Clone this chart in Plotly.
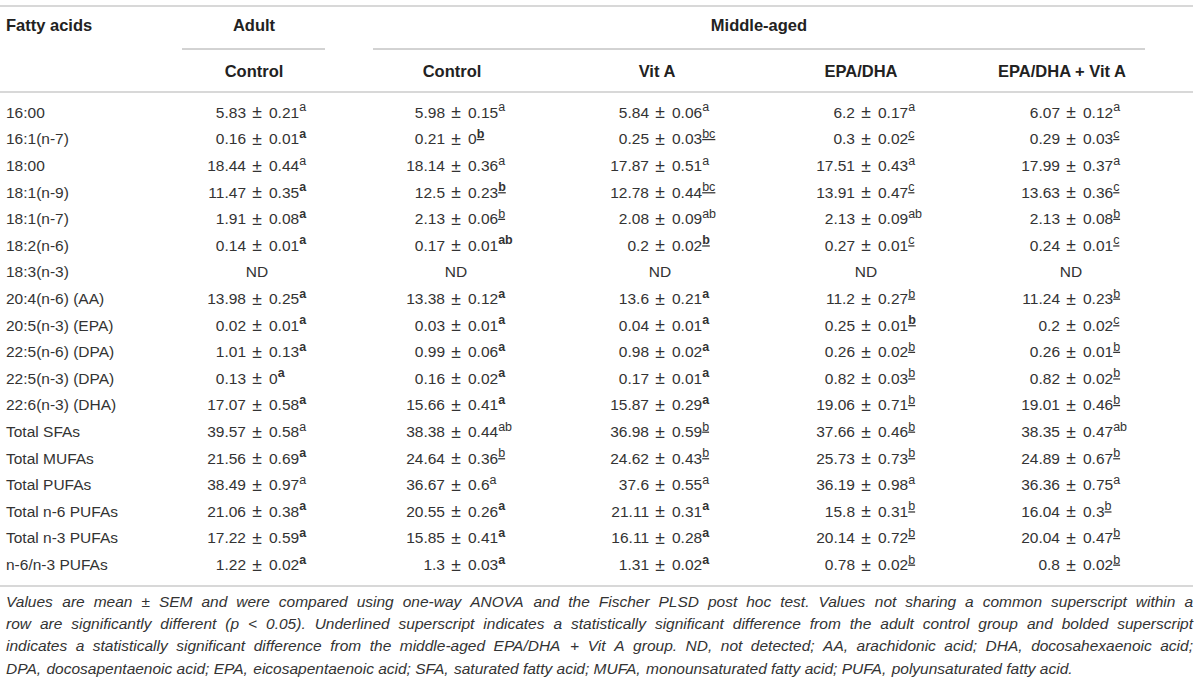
import plotly.graph_objects as go

# ---- table data ----
fatty_acids = ["16:00", "16:1(n-7)", "18:00", "18:1(n-9)", "18:1(n-7)", "18:2(n-6)", "18:3(n-3)",
               "20:4(n-6) (AA)", "20:5(n-3) (EPA)", "22:5(n-6) (DPA)", "22:5(n-3) (DPA)", "22:6(n-3) (DHA)",
               "Total SFAs", "Total MUFAs", "Total PUFAs", "Total n-6 PUFAs", "Total n-3 PUFAs", "n-6/n-3 PUFAs"]

age_groups = ["Adult", "Middle-aged"]
treatments = ["Control", "Control", "Vit A", "EPA/DHA", "EPA/DHA + Vit A"]

# superscript codes: "*" = bold, "_" = underlined, None = not detected
adult_ctrl_mean = [5.83, 0.16, 18.44, 11.47, 1.91, 0.14, None, 13.98, 0.02, 1.01, 0.13, 17.07, 39.57, 21.56, 38.49, 21.06, 17.22, 1.22]
adult_ctrl_sem = [0.21, 0.01, 0.44, 0.35, 0.08, 0.01, None, 0.25, 0.01, 0.13, 0, 0.58, 0.58, 0.69, 0.97, 0.38, 0.59, 0.02]
adult_ctrl_sup = ["a", "*a", "a", "*a", "*a", "*a", None, "*a", "*a", "*a", "*a", "*a", "a", "*a", "a", "*a", "*a", "*a"]

ma_ctrl_mean = [5.98, 0.21, 18.14, 12.5, 2.13, 0.17, None, 13.38, 0.03, 0.99, 0.16, 15.66, 38.38, 24.64, 36.67, 20.55, 15.85, 1.3]
ma_ctrl_sem = [0.15, 0, 0.36, 0.23, 0.06, 0.01, None, 0.12, 0.01, 0.06, 0.02, 0.41, 0.44, 0.36, 0.6, 0.26, 0.41, 0.03]
ma_ctrl_sup = ["a", "*_b", "a", "*_b", "_b", "*ab", None, "*a", "*a", "*a", "*a", "*a", "ab", "_b", "a", "*a", "*a", "*a"]

vita_mean = [5.84, 0.25, 17.87, 12.78, 2.08, 0.2, None, 13.6, 0.04, 0.98, 0.17, 15.87, 36.98, 24.62, 37.6, 21.11, 16.11, 1.31]
vita_sem = [0.06, 0.03, 0.51, 0.44, 0.09, 0.02, None, 0.21, 0.01, 0.02, 0.01, 0.29, 0.59, 0.43, 0.55, 0.31, 0.28, 0.02]
vita_sup = ["a", "_bc", "a", "_bc", "ab", "*_b", None, "*a", "*a", "*a", "*a", "*a", "_b", "_b", "a", "*a", "*a", "*a"]

epa_mean = [6.2, 0.3, 17.51, 13.91, 2.13, 0.27, None, 11.2, 0.25, 0.26, 0.82, 19.06, 37.66, 25.73, 36.19, 15.8, 20.14, 0.78]
epa_sem = [0.17, 0.02, 0.43, 0.47, 0.09, 0.01, None, 0.27, 0.01, 0.02, 0.03, 0.71, 0.46, 0.73, 0.98, 0.31, 0.72, 0.02]
epa_sup = ["a", "_c", "a", "_c", "ab", "_c", None, "_b", "*_b", "_b", "_b", "_b", "_b", "_b", "a", "_b", "_b", "_b"]

epa_vita_mean = [6.07, 0.29, 17.99, 13.63, 2.13, 0.24, None, 11.24, 0.2, 0.26, 0.82, 19.01, 38.35, 24.89, 36.36, 16.04, 20.04, 0.8]
epa_vita_sem = [0.12, 0.03, 0.37, 0.36, 0.08, 0.01, None, 0.23, 0.02, 0.01, 0.02, 0.46, 0.47, 0.67, 0.75, 0.3, 0.47, 0.02]
epa_vita_sup = ["a", "_c", "a", "_c", "_b", "_c", None, "_b", "_c", "_b", "_b", "_b", "ab", "_b", "a", "_b", "_b", "_b"]

footnote_lines = [
    "Values are mean ± SEM and were compared using one-way ANOVA and the Fischer PLSD post hoc test. Values not sharing a common superscript within a",
    "row are significantly different (p < 0.05). Underlined superscript indicates a statistically significant difference from the adult control group and bolded superscript",
    "indicates a statistically significant difference from the middle-aged EPA/DHA + Vit A group. ND, not detected; AA, arachidonic acid; DHA, docosahexaenoic acid;",
    "DPA, docosapentaenoic acid; EPA, eicosapentaenoic acid; SFA, saturated fatty acid; MUFA, monounsaturated fatty acid; PUFA, polyunsaturated fatty acid.",
]

columns = [
    (adult_ctrl_mean, adult_ctrl_sem, adult_ctrl_sup),
    (ma_ctrl_mean, ma_ctrl_sem, ma_ctrl_sup),
    (vita_mean, vita_sem, vita_sup),
    (epa_mean, epa_sem, epa_sup),
    (epa_vita_mean, epa_vita_sem, epa_vita_sup),
]

# ---- layout constants (pixels) ----
W, H = 1200, 680
FONT = "Liberation Sans, Arial, sans-serif"
TXT = "#333333"
FS = 15.5
HEAD_FS = 16.5
FN_FS = 15.5
pm_x = [257, 456, 660, 866, 1071]      # where the ± signs sit
head_x = [254, 452, 657, 861, 1062]    # header centres
label_x = 6
right_edge = 1193
row0, row_h = 114, 26.6
head1_y, head2_y = 27, 73
fn_y0, fn_h = 603, 22.3
gap_l, gap_r = 11, 12

row_y = [row0 + i * row_h for i in range(len(fatty_acids))]


def sup(code):
    s = code.strip("*_")
    if "_" in code:
        s = f"<u>{s}</u>"
    if "*" in code:
        s = f"<b>{s}</b>"
    return f"<sup><span style='font-size:115%'>{s}</span></sup>"


def text_trace(x, y, text, pos, size=FS, color=TXT, style="normal"):
    return go.Scatter(x=x, y=y, text=text, mode="text", textposition=pos,
                      textfont=dict(family=FONT, size=size, color=color, style=style),
                      hoverinfo="skip", showlegend=False, cliponaxis=False)


fig = go.Figure()

# row labels
fig.add_trace(text_trace([label_x] * len(fatty_acids), row_y, fatty_acids, "middle right"))

# value cells: mean | ± | sem+superscript, aligned on the ± sign
for cx, (means, sems, sups) in zip(pm_x, columns):
    ys = [y for y, m in zip(row_y, means) if m is not None]
    fig.add_trace(text_trace([cx - gap_l] * len(ys), ys,
                             [f"{m:g}" for m in means if m is not None], "middle left"))
    fig.add_trace(text_trace([cx] * len(ys), ys, ["±"] * len(ys), "middle center", size=17.5))
    fig.add_trace(text_trace([cx + gap_r] * len(ys), ys,
                             [f"{s:g}{sup(c)}" for s, c in zip(sems, sups) if s is not None],
                             "middle right"))
    nd_y = [y for y, m in zip(row_y, means) if m is None]
    fig.add_trace(text_trace([cx] * len(nd_y), nd_y, ["ND"] * len(nd_y), "middle center"))

# headers
fig.add_trace(text_trace([label_x], [head1_y], ["<b>Fatty acids</b>"], "middle right",
                         size=HEAD_FS, color="#222"))
fig.add_trace(text_trace([head_x[0], (head_x[1] + head_x[-1]) / 2 + 2], [head1_y] * 2,
                         [f"<b>{g}</b>" for g in age_groups], "middle center",
                         size=HEAD_FS, color="#222"))
fig.add_trace(text_trace(head_x, [head2_y] * len(head_x),
                         [f"<b>{t}</b>" for t in treatments], "middle center",
                         size=HEAD_FS, color="#222"))

# footnote, justified using Arial metrics
char_w = {}
for chars, w in [(" ,.:;/!ftI", 278), ("()-r", 333), ("ilj", 222), ("cksvxyzJ", 500),
                 ("0123456789abdeghnopquL", 556), ("+<=>", 584), ("±", 549), ("FTZ", 611),
                 ("ABEKPSVXY", 667), ("CDHNRUw", 722), ("GOQ", 778), ("mM", 833), ("W", 944)]:
    for ch in chars:
        char_w[ch] = w


def str_w(s):
    return sum(char_w.get(ch, 556) for ch in s) * FN_FS / 1000


fn_x, fn_yy, fn_txt = [], [], []
for li, line in enumerate(footnote_lines):
    words = line.split(" ")
    y = fn_y0 + li * fn_h
    natural = sum(str_w(wd) for wd in words)
    if li < len(footnote_lines) - 1:
        gap = (right_edge - label_x - natural) / (len(words) - 1)
    else:
        gap = str_w(" ")
    x = label_x
    for wd in words:
        fn_x.append(x)
        fn_yy.append(y)
        fn_txt.append(wd.replace("<", "&lt;"))
        x += str_w(wd) + gap
fig.add_trace(text_trace(fn_x, fn_yy, fn_txt, "middle right", size=FN_FS, style="italic"))

# table rules
light = dict(color="#d8d8d8", width=2)
for y in [6, 92, 586]:
    fig.add_shape(type="line", x0=0, x1=right_edge, y0=y, y1=y, xref="x", yref="y", line=light)
for x0, x1 in [(182, 325), (373, 1145)]:
    fig.add_shape(type="line", x0=x0, x1=x1, y0=49, y1=49, xref="x", yref="y",
                  line=dict(color="#a6a6a6", width=1))

fig.update_layout(width=W, height=H, margin=dict(l=0, r=0, t=0, b=0),
                  paper_bgcolor="white", plot_bgcolor="white",
                  xaxis=dict(range=[0, W], visible=False, fixedrange=True),
                  yaxis=dict(range=[H, 0], visible=False, fixedrange=True))

fig.write_html("out.html", config={"displayModeBar": False},
               post_script="document.body.style.margin='0';document.body.style.overflow='hidden';")
